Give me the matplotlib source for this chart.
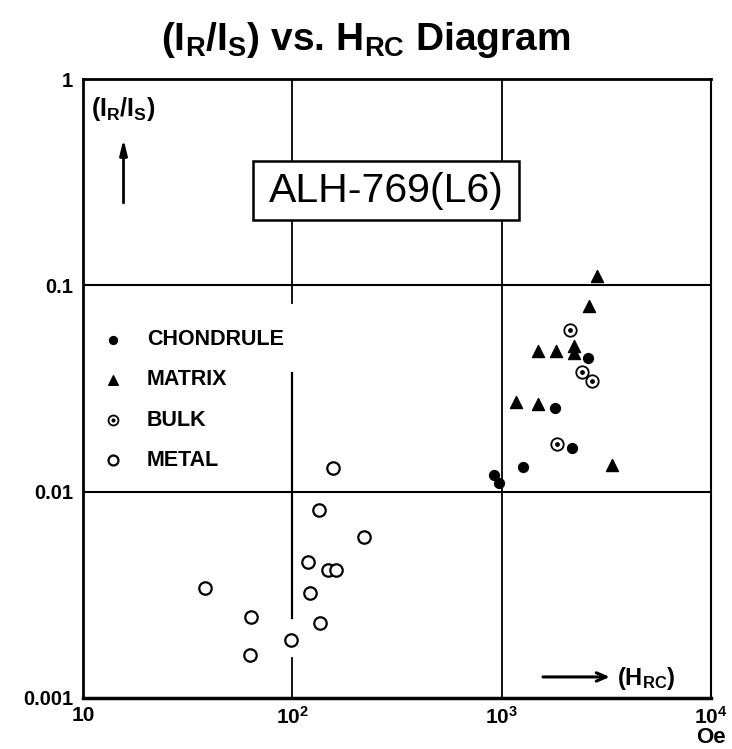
import matplotlib.pyplot as plt
from matplotlib.legend_handler import HandlerTuple
from matplotlib.patches import Rectangle

plt.rcParams['font.family'] = ['Liberation Sans', 'DejaVu Sans']
plt.rcParams['mathtext.fontset'] = 'custom'
plt.rcParams['mathtext.rm'] = 'Liberation Sans'
plt.rcParams['mathtext.bf'] = 'Liberation Sans:bold'
plt.rcParams['mathtext.it'] = 'Liberation Sans:italic'

# datos (H_RC en Oe, I_R/I_S)
chondrule_hrc = [2594, 1804, 2175, 1269, 922, 974]
chondrule_ratio = [0.0446, 0.0254, 0.0162, 0.0132, 0.0120, 0.0110]

matrix_hrc = [2864, 2622, 1496, 1824, 2223, 2223, 1171, 1493, 3354]
matrix_ratio = [0.111, 0.0797, 0.0482, 0.0480, 0.0510, 0.0468, 0.0273, 0.0265, 0.0134]

bulk_hrc = [2114, 2427, 2692, 1838]
bulk_ratio = [0.0608, 0.0380, 0.0344, 0.0171]

metal_hrc = [156, 134, 221, 119, 148, 162, 38.4, 121, 63.3, 136, 98.8, 63.1]
metal_ratio = [0.0130, 0.00812, 0.00601, 0.00458, 0.00416, 0.00417, 0.00342,
               0.00323, 0.00248, 0.00230, 0.00191, 0.00161]

x_ticks = [10, 100, 1000, 10000]
x_labels = ['10', r'$\mathbf{10^2}$', r'$\mathbf{10^3}$', r'$\mathbf{10^4}$']
y_ticks = [0.001, 0.01, 0.1, 1]
y_labels = ['0.001', '0.01', '0.1', '1']

fig = plt.figure(figsize=(7.32, 7.49), dpi=100)
ax = fig.add_axes([0.1134, 0.0681, 0.8579, 0.8264])
ax.set_xscale('log')
ax.set_yscale('log')
ax.set_xlim(10, 10000)
ax.set_ylim(0.001, 1)

# lineas de la cuadricula (la de 10^2 tiene huecos como en el original)
ax.axhline(0.1, color='black', lw=1.5, zorder=1)
ax.axhline(0.01, color='black', lw=1.5, zorder=1)
ax.axvline(1000, color='black', lw=1.3, zorder=1)
ax.axvline(100, ymin=0.638, ymax=1, color='black', lw=1.3, zorder=1)
ax.axvline(100, ymin=0.129, ymax=0.525, color='black', lw=1.6, zorder=1)
ax.axvline(100, ymin=0, ymax=0.0646, color='black', lw=1.3, zorder=1)

for s in ax.spines.values():
    s.set_linewidth(2)
ax.spines['right'].set_linewidth(1.5)
ax.spines['bottom'].set_linewidth(2.5)

# puntos
h1 = ax.scatter(chondrule_hrc, chondrule_ratio, s=50, marker='o', color='black', zorder=3)
h2 = ax.scatter(matrix_hrc, matrix_ratio, s=75, marker='^', color='black', zorder=3)
h3a = ax.scatter(bulk_hrc, bulk_ratio, s=80, marker='o', facecolor='white',
                 edgecolor='black', linewidths=1.3, zorder=3)
h3b = ax.scatter(bulk_hrc, bulk_ratio, s=6, marker='o', color='black', zorder=4)
h4 = ax.scatter(metal_hrc, metal_ratio, s=80, marker='o', facecolor='white',
                edgecolor='black', linewidths=1.6, zorder=3)

ax.legend([h1, h2, (h3a, h3b), h4], ['CHONDRULE', 'MATRIX', 'BULK', 'METAL'],
          handler_map={tuple: HandlerTuple(ndivide=1, pad=0)},
          loc='upper left', bbox_to_anchor=(0.0, 0.627), frameon=False,
          prop={'weight': 'bold', 'size': 15.5}, markerscale=0.8,
          labelspacing=0.89, handletextpad=1.07, handlelength=1.0,
          borderpad=0.4, borderaxespad=0.5)

ax.set_xticks(x_ticks)
ax.set_xticklabels(x_labels, fontsize=15, fontweight='bold')
ax.set_yticks(y_ticks)
ax.set_yticklabels(y_labels, fontsize=14.5, fontweight='bold')
ax.minorticks_off()
ax.tick_params(axis='x', length=0, pad=6)
ax.tick_params(axis='y', length=0, pad=7)

ax.text(1.0, -0.0805, 'Oe', transform=ax.transAxes, ha='center', va='bottom',
        fontsize=16, fontweight='bold')

# titulo y etiquetas
fig.text(0.5, 1 - 40 / 749, r'(I$_\mathbf{R}$/I$_\mathbf{S}$) vs. H$_\mathbf{RC}$ Diagram',
         ha='center', va='center', fontsize=28, fontweight='bold')

ax.add_patch(Rectangle((0.2707, 0.7722), 0.4236, 0.0953, transform=ax.transAxes,
                       facecolor='white', edgecolor='black', lw=1.8, zorder=5))
ax.text(0.4825, 0.819, 'ALH-769(L6)', transform=ax.transAxes, ha='center', va='center',
        fontsize=29.5, zorder=6)

ax.text(0.012, 0.951, r'(I$_\mathbf{R}$/I$_\mathbf{S}$)', transform=ax.transAxes,
        ha='left', va='center', fontsize=18, fontweight='bold')
ax.annotate('', xy=(0.0645, 0.903), xytext=(0.0645, 0.8), xycoords='axes fraction',
            arrowprops=dict(arrowstyle='-|>,head_length=0.9,head_width=0.22',
                            lw=2, color='black', shrinkA=0, shrinkB=0))

ax.annotate('', xy=(0.839, 0.034), xytext=(0.7325, 0.034), xycoords='axes fraction',
            arrowprops=dict(arrowstyle='->,head_length=0.7,head_width=0.3',
                            lw=2.2, color='black', shrinkA=0, shrinkB=0))
ax.text(0.851, 0.031, r'(H$_\mathbf{RC}$)', transform=ax.transAxes,
        ha='left', va='center', fontsize=17, fontweight='bold')

plt.savefig('out.png', dpi=100)
